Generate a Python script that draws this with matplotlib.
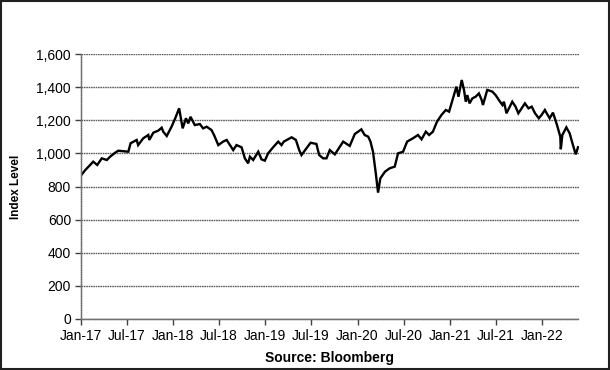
import matplotlib
matplotlib.use("Agg")
import matplotlib.pyplot as plt
import matplotlib.dates as mdates
import pandas as pd
from matplotlib.ticker import FuncFormatter, MultipleLocator

dates = [
    "2017-01-03", "2017-01-19", "2017-02-07", "2017-02-19", "2017-03-07", "2017-03-25",
    "2017-04-14", "2017-04-27", "2017-05-17", "2017-05-29", "2017-07-08", "2017-07-17",
    "2017-08-10", "2017-08-16", "2017-09-05",
    "2017-09-25", "2017-09-29", "2017-10-15", "2017-11-03", "2017-11-17", "2017-11-23",
    "2017-12-07", "2017-12-26", "2018-01-08", "2018-01-25", "2018-02-08", "2018-02-21",
    "2018-03-02", "2018-03-11", "2018-03-28", "2018-04-17", "2018-04-30", "2018-05-14",
    "2018-06-02", "2018-06-12", "2018-06-29", "2018-07-18", "2018-08-01", "2018-08-14",
    "2018-08-27", "2018-09-09", "2018-09-29", "2018-10-12", "2018-10-25", "2018-11-01",
    "2018-11-14", "2018-12-04", "2018-12-17", "2018-12-30", "2019-01-12", "2019-02-01",
    "2019-02-21", "2019-03-06", "2019-03-15", "2019-04-01", "2019-04-15", "2019-05-02",
    "2019-05-15", "2019-05-24", "2019-06-10", "2019-06-29", "2019-07-22", "2019-08-02",
    "2019-08-18", "2019-08-31", "2019-09-13", "2019-10-03", "2019-11-05", "2019-12-01",
    "2019-12-21", "2020-01-16", "2020-01-29", "2020-02-12", "2020-02-21", "2020-03-02",
    "2020-03-13", "2020-03-22", "2020-03-31", "2020-04-18", "2020-05-07", "2020-05-27",
    "2020-06-09", "2020-06-29", "2020-07-15", "2020-08-07", "2020-08-27", "2020-09-10",
    "2020-09-27", "2020-10-10", "2020-10-25", "2020-11-10", "2020-11-28", "2020-12-15",
    "2020-12-28", "2021-01-16", "2021-01-26", "2021-02-03", "2021-02-16", "2021-02-25",
    "2021-03-04", "2021-03-10", "2021-03-19", "2021-03-30", "2021-04-12", "2021-04-25",
    "2021-05-06", "2021-05-11", "2021-05-28", "2021-06-17", "2021-06-30", "2021-07-13",
    "2021-07-27", "2021-08-02", "2021-08-12", "2021-08-22", "2021-09-04", "2021-09-17",
    "2021-09-28", "2021-10-11", "2021-10-24", "2021-11-07", "2021-11-20", "2021-12-03",
    "2021-12-18", "2021-12-29", "2022-01-11", "2022-01-19", "2022-01-30", "2022-02-12",
    "2022-02-28", "2022-03-13", "2022-03-15", "2022-03-21", "2022-04-06", "2022-04-19",
    "2022-04-30", "2022-05-13", "2022-05-22",
]
index_level = [
    869, 900, 930, 950, 930, 970,
    960, 980, 1004, 1016, 1010, 1061,
    1081, 1050, 1091,
    1111, 1081, 1125, 1137, 1155, 1131,
    1105, 1161, 1206, 1272, 1151, 1212,
    1181, 1221, 1171, 1177, 1151, 1161,
    1141, 1111, 1050, 1071, 1081, 1050,
    1020, 1050, 1037, 970, 940, 980,
    960, 1010, 964, 956, 1000, 1037,
    1071, 1050, 1071, 1085, 1097, 1081,
    1020, 990, 1025, 1064, 1057, 990,
    970, 970, 1020, 994, 1071, 1045,
    1117, 1145, 1111, 1101, 1071, 1010,
    880, 763, 849, 889, 910, 920,
    1000, 1010, 1071, 1091, 1111, 1085,
    1131, 1111, 1131, 1191, 1232, 1262,
    1252, 1352, 1403, 1342, 1443, 1383,
    1312, 1352, 1302, 1332, 1342, 1362,
    1322, 1292, 1383, 1373, 1352, 1322,
    1292, 1312, 1242, 1272, 1312, 1282,
    1242, 1272, 1302, 1272, 1282, 1242,
    1212, 1232, 1262, 1240, 1212, 1246,
    1171, 1101, 1025, 1111, 1157, 1121,
    1061, 994, 1037,
]
tick_dates = ["2017-01-01", "2017-07-01", "2018-01-01", "2018-07-01", "2019-01-01",
              "2019-07-01", "2020-01-01", "2020-07-01", "2021-01-01", "2021-07-01",
              "2022-01-01"]
y_label = "Index Level"
x_label = "Source: Bloomberg"

plt.rcParams['font.family'] = ['Liberation Sans', 'DejaVu Sans']

fig = plt.figure(figsize=(6.1, 3.7), dpi=100)
ax = fig.add_axes([80.8 / 610, 51 / 370, (578.5 - 80.8) / 610, (319 - 54) / 370])

x = pd.to_datetime(dates)
ax.plot(x, index_level, color='black', linewidth=1.7, solid_joinstyle='miter')

ax.set_ylim(0, 1600)
ax.yaxis.set_major_locator(MultipleLocator(200))
ax.yaxis.set_major_formatter(FuncFormatter(lambda v, p: f"{int(v):,}"))
ax.set_xlim(pd.Timestamp("2017-01-01"), pd.Timestamp("2022-05-24"))
ax.set_xticks(pd.to_datetime(tick_dates))
ax.xaxis.set_major_formatter(mdates.DateFormatter('%b-%y'))

ax.grid(axis='y', color='#606060', linewidth=1.0, linestyle=(0, (1.2, 0.5)))
ax.set_axisbelow(True)
for s in ['top', 'right']:
    ax.spines[s].set_visible(False)
for s in ['left', 'bottom']:
    ax.spines[s].set_color('#707070')
    ax.spines[s].set_linewidth(1.0)
    ax.spines[s].set_linestyle((0, (1.2, 0.5)))

ax.tick_params(axis='both', direction='out', length=4, width=1, color='#404040',
               labelsize=10, labelcolor='black', pad=3)

ax.set_ylabel(y_label, fontsize=8.5, fontweight='bold', labelpad=10)
ax.set_xlabel(x_label, fontsize=10, fontweight='bold', labelpad=6)

border = plt.Rectangle((0.0015, 0.002), 0.997, 0.996, transform=fig.transFigure,
                       fill=False, edgecolor='#202020', linewidth=1.5)
fig.patches.append(border)

fig.savefig("out.png", dpi=100)
